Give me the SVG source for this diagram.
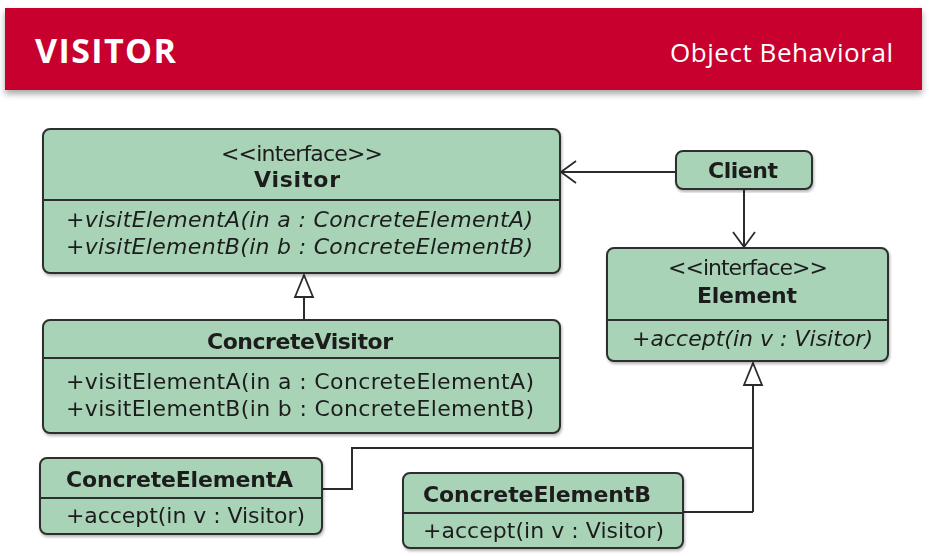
<svg xmlns="http://www.w3.org/2000/svg" width="929" height="556" viewBox="0 0 929 556">
<defs>
<filter id="sh" x="-5%" y="-20%" width="110%" height="150%">
<feGaussianBlur in="SourceAlpha" stdDeviation="3"/>
<feOffset dx="0" dy="4"/>
<feComponentTransfer><feFuncA type="linear" slope="0.35"/></feComponentTransfer>
<feMerge><feMergeNode/><feMergeNode in="SourceGraphic"/></feMerge>
</filter>
<filter id="bs" x="-5%" y="-5%" width="110%" height="115%">
<feGaussianBlur in="SourceAlpha" stdDeviation="1.5"/>
<feOffset dx="1" dy="2"/>
<feComponentTransfer><feFuncA type="linear" slope="0.3"/></feComponentTransfer>
<feMerge><feMergeNode/><feMergeNode in="SourceGraphic"/></feMerge>
</filter>
<marker id="open" viewBox="0 0 24 24" refX="22" refY="12" markerWidth="24" markerHeight="24" markerUnits="userSpaceOnUse" orient="auto">
<path d="M7,1 L22,12 L7,23" fill="none" stroke="#2b2b2b" stroke-width="1.8"/>
</marker>
<marker id="tri" viewBox="0 0 22 26" refX="11" refY="1" markerWidth="22" markerHeight="26" markerUnits="userSpaceOnUse" orient="0">
<path d="M11,1 L20,23 L2,23 Z" fill="#fff" stroke="#2b2b2b" stroke-width="1.8"/>
</marker>
</defs>
<style>
.box{fill:#a8d3b6;stroke:#2f2f2f;stroke-width:2}
.div{stroke:#2f2f2f;stroke-width:2}
.t{font-family:"DejaVu Sans","Open Sans",sans-serif;font-size:22px;fill:#1e1e1e}
.b{font-weight:bold}
.i{font-style:italic}
.ln{fill:none;stroke:#2b2b2b;stroke-width:2}
</style>
<rect width="929" height="556" fill="#fff"/>
<g id="header">
<rect x="5" y="8" width="917" height="82" fill="#c8002d" filter="url(#sh)"/>
<text x="35" y="63" font-family="'Open Sans','Noto Sans',sans-serif" font-weight="bold" font-size="34" fill="#fff" textLength="141">VISITOR</text>
<text x="670" y="62" font-family="'Open Sans','Noto Sans',sans-serif" font-size="26" fill="#fff" textLength="223">Object Behavioral</text>
</g>
<g id="connectors">
<line class="ln" x1="676" y1="172" x2="561" y2="172" marker-end="url(#open)"/>
<line class="ln" x1="744" y1="189" x2="744" y2="247" marker-end="url(#open)"/>
<path class="ln" d="M304,320 L304,275" marker-end="url(#tri)"/>
<path class="ln" d="M753,512 L753,363" marker-end="url(#tri)"/>
<path class="ln" d="M322,489 L352,489 L352,448 L753,448"/>
<path class="ln" d="M683,512 L753,512"/>
</g>
<g id="visitor" filter="url(#bs)">
<rect class="box" x="43" y="129" width="517" height="144" rx="7"/>
<line class="div" x1="43" y1="200" x2="560" y2="200"/>
<text class="t" x="221" y="161" textLength="162">&lt;&lt;interface&gt;&gt;</text>
<text class="t b" x="254" y="187" textLength="86">Visitor</text>
<text class="t i" x="66" y="227" textLength="467">+visitElementA(in a : ConcreteElementA)</text>
<text class="t i" x="66" y="254" textLength="467">+visitElementB(in b : ConcreteElementB)</text>
</g>
<g id="concretevisitor" filter="url(#bs)">
<rect class="box" x="43" y="320" width="517" height="113" rx="7"/>
<line class="div" x1="43" y1="358" x2="560" y2="358"/>
<text class="t b" x="207" y="349" textLength="186">ConcreteVisitor</text>
<text class="t" x="66" y="389" textLength="468">+visitElementA(in a : ConcreteElementA)</text>
<text class="t" x="66" y="416" textLength="468">+visitElementB(in b : ConcreteElementB)</text>
</g>
<g id="client" filter="url(#bs)">
<rect class="box" x="676" y="151" width="136" height="38" rx="7"/>
<text class="t b" x="708" y="178" textLength="70">Client</text>
</g>
<g id="element" filter="url(#bs)">
<rect class="box" x="607" y="248" width="281" height="113" rx="7"/>
<line class="div" x1="607" y1="320" x2="888" y2="320"/>
<text class="t" x="668" y="275" textLength="160">&lt;&lt;interface&gt;&gt;</text>
<text class="t b" x="697" y="303" textLength="100">Element</text>
<text class="t i" x="632" y="346" textLength="241">+accept(in v : Visitor)</text>
</g>
<g id="concreteelementa" filter="url(#bs)">
<rect class="box" x="40" y="458" width="282" height="76" rx="7"/>
<line class="div" x1="40" y1="498" x2="322" y2="498"/>
<text class="t b" x="66" y="487" textLength="227">ConcreteElementA</text>
<text class="t" x="66" y="523" textLength="239">+accept(in v : Visitor)</text>
</g>
<g id="concreteelementb" filter="url(#bs)">
<rect class="box" x="403" y="473" width="280" height="75" rx="7"/>
<line class="div" x1="403" y1="513" x2="683" y2="513"/>
<text class="t b" x="423" y="502" textLength="228">ConcreteElementB</text>
<text class="t" x="423" y="538" textLength="241">+accept(in v : Visitor)</text>
</g>
</svg>
